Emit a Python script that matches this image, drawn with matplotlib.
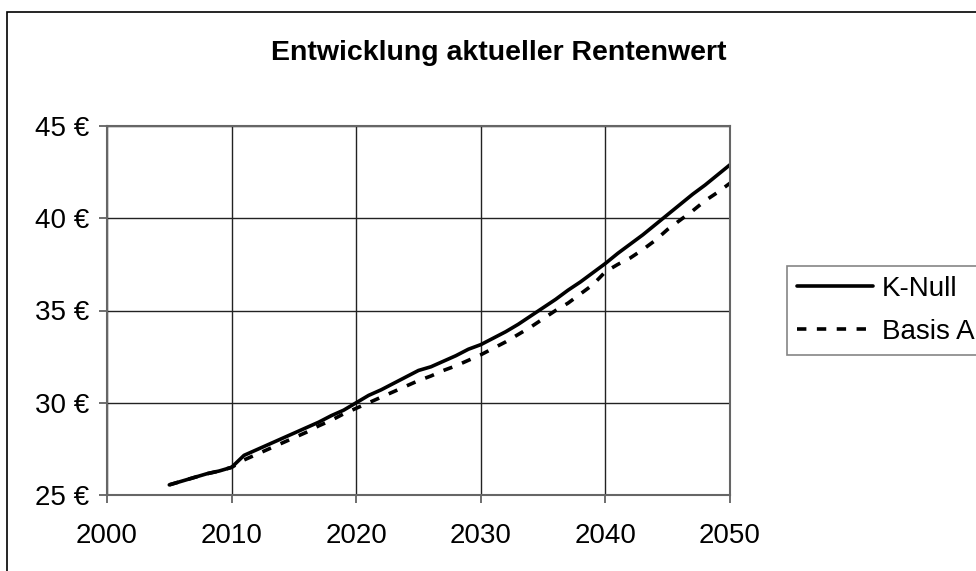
import matplotlib
matplotlib.use("Agg")
import matplotlib.pyplot as plt
from matplotlib.patches import Rectangle
from matplotlib.ticker import FuncFormatter

plt.rcParams['font.family'] = ['Liberation Sans', 'DejaVu Sans']

# data (Euro)
years = list(range(2005, 2051))
k_null = [25.55, 25.75, 25.95, 26.15, 26.3, 26.5,
          27.15, 27.45, 27.75, 28.05, 28.35, 28.65, 28.95, 29.3, 29.6, 30.0,
          30.4, 30.7, 31.05, 31.4, 31.75, 31.95, 32.25, 32.55, 32.9, 33.15,
          33.5, 33.85, 34.25, 34.7, 35.15, 35.6, 36.1, 36.55, 37.05, 37.55,
          38.1, 38.6, 39.1, 39.65, 40.2, 40.75, 41.3, 41.8, 42.35, 42.9]
basis_a = [25.55, 25.75, 25.95, 26.15, 26.3, 26.5,
           26.9, 27.2, 27.5, 27.8, 28.1, 28.4, 28.75, 29.05, 29.4, 29.7,
           30.0, 30.3, 30.6, 30.9, 31.2, 31.45, 31.75, 32.0, 32.3, 32.6,
           32.95, 33.3, 33.7, 34.1, 34.55, 35.0, 35.4, 35.9, 36.4, 37.1,
           37.5, 37.85, 38.3, 38.8, 39.4, 39.9, 40.4, 40.95, 41.4, 41.9]
x_ticks = [2000, 2010, 2020, 2030, 2040, 2050]
y_ticks = [25, 30, 35, 40, 45]

W, H = 976, 571
fig = plt.figure(figsize=(W / 100, H / 100), dpi=100)
ax = fig.add_axes([107 / W, 1 - 495 / H, (730 - 107) / W, (495 - 126) / H])

# outer frame of the chart object
fig.patches.append(Rectangle((7 / W, -0.05), 1.1, 1 - 12 / H + 0.05,
                             transform=fig.transFigure, fill=False,
                             edgecolor='black', linewidth=1.2))

ax.plot(years, k_null, color='black', linewidth=2.6, label='K-Null',
        solid_capstyle='round')
ax.plot(years, basis_a, color='black', linewidth=2.6, label='Basis A',
        linestyle=(0, (2.6, 2.9)), dash_capstyle='butt')

ax.set_xlim(2000, 2050)
ax.set_ylim(25, 45)
ax.set_xticks(x_ticks)
ax.set_yticks(y_ticks)
ax.yaxis.set_major_formatter(FuncFormatter(lambda v, p: f'{v:.0f} €'))
ax.grid(True, color='#222222', linewidth=1.0)
ax.set_axisbelow(True)
for s in ax.spines.values():
    s.set_color('#666666')
    s.set_linewidth(1.5)
ax.tick_params(axis='both', labelsize=20, length=6, width=1.2,
               color='#555555', direction='out')
ax.tick_params(axis='x', pad=14)
ax.tick_params(axis='y', pad=7)

fig.text(499 / W, 1 - 53 / H, 'Entwicklung aktueller Rentenwert',
         ha='center', va='center', fontsize=20.5, fontweight='bold')

leg = fig.legend(loc='upper left', bbox_to_anchor=(787 / W, 1 - 266 / H),
                 fontsize=20, frameon=True, fancybox=False, handlelength=2.73,
                 handletextpad=0.32, labelspacing=0.61, borderaxespad=0,
                 borderpad=0.36)
leg.get_frame().set_edgecolor('#666666')
leg.get_frame().set_linewidth(1.2)

fig.savefig('out.png', dpi=100)
